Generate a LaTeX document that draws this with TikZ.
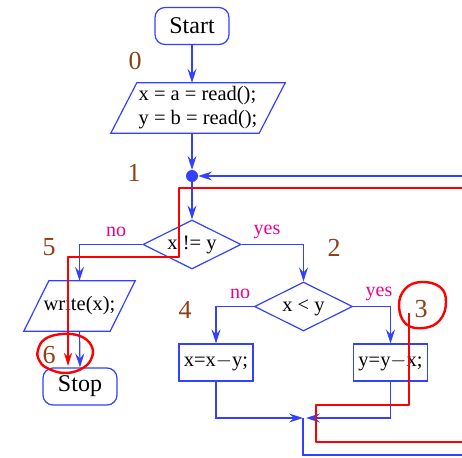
\documentclass[tikz,border=0pt]{standalone}
\usepackage{fontspec}
\setmainfont{Liberation Serif}
\usepackage{tikz}
\usetikzlibrary{positioning,arrows.meta,shapes.geometric}
\definecolor{flowblue}{rgb}{0.2,0.25,1}
\definecolor{stepbrown}{rgb}{0.55,0.25,0.08}

\begin{document}
\begin{tikzpicture}[
  x=1pt, y=-1pt,
  line/.style={draw=flowblue, line width=1.2pt},
  arr/.style={line, -{Stealth[length=14pt, width=9pt, inset=5pt]}},
  term/.style={line, rounded corners=10pt, minimum width=74pt,
               minimum height=37pt, font=\fontsize{24}{28}\selectfont},
  io/.style={minimum height=50pt, inner sep=0pt, align=left,
             font=\fontsize{20.5}{24}\selectfont},
  stmt/.style={line, minimum width=74pt, minimum height=37pt,
               font=\fontsize{20.5}{24}\selectfont},
  cond/.style={line, diamond, inner sep=0pt, minimum width=98pt,
               minimum height=49pt, text height=10pt, text depth=0pt,
               font=\fontsize{20.5}{24}\selectfont},
  stepno/.style={text=stepbrown, font=\fontsize{26}{30}\selectfont},
  lab/.style={text=magenta, font=\fontsize{20}{24}\selectfont},
  redpen/.style={draw=red, line width=2.4pt, line join=round}
]
  \clip (0,0) rectangle (462,457);

  \node[term] (start) at (192,26) {Start};
  \node[io, minimum width=148pt] (rd) at (198,108)
    {x = a = read();\\y = b = read();};
  \node[circle, fill=flowblue, inner sep=0pt, minimum size=12pt] (j1) at (192,176) {};
  \node[cond] (c1) at (192,244.5) {\makebox[0pt]{x != y}};
  \node[cond] (c2) at (303.5,306.5) {\makebox[0pt]{x < y}};
  \node[io, minimum width=86pt] (wr) at (79.5,306) {write(x);};
  \node[stmt] (b1) at (216,362.5) {x=x$-$y;};
  \node[stmt] (b2) at (390.5,362.5) {y=y$-$x;};
  \node[term] (stop) at (80,386.5) {Stop};
  \coordinate (m) at (303,418);

  % parallelograms drawn round the two io nodes
  \draw[line] ([xshift=13pt]rd.north west) -- ([xshift=13pt]rd.north east)
    -- ([xshift=-13pt]rd.south east) -- ([xshift=-13pt]rd.south west) -- cycle;
  \draw[line] ([xshift=12.5pt]wr.north west) -- ([xshift=12.5pt]wr.north east)
    -- ([xshift=-12.5pt]wr.south east) -- ([xshift=-12.5pt]wr.south west) -- cycle;

  % step numbers and branch labels
  \node[stepno] (n0) at (135,61) {0};
  \node[stepno] (n1) at (134,173) {1};
  \node[stepno] (n5) at (49,247) {5};
  \node[stepno] (n2) at (334,248) {2};
  \node[stepno] (n4) at (185,310) {4};
  \node[stepno] (n3) at (421,309) {3};
  \node[stepno] (n6) at (49,355) {6};
  \node[lab] at (116,232) {no};
  \node[lab] at (267,232) {yes};
  \node[lab] at (240,294) {no};
  \node[lab] at (379,294) {yes};

  \draw[arr] (start.south) -- (start.south |- rd.north);
  \draw[arr] (rd.south -| j1) -- (j1);
  \draw[arr] (j1) -- (c1.north);
  \draw[arr] (c1.west) -| (wr.north);
  \draw[arr] (c1.east) -| (c2.north);
  \draw[arr] (c2.west) -| (b1.north);
  \draw[arr] (c2.east) -| (b2.north);
  \draw[arr] (wr.south) -- (stop.north);
  \draw[arr] (b1.south) |- (m);
  \draw[arr] (b2.south) |- ([xshift=3pt]m);
  % back edge leaves the visible part on the right
  \draw[arr] (m) |- (475,455) |- (j1);

  % red pen annotation
  \draw[redpen, -{Stealth[length=13pt, width=8pt, inset=4pt]}]
    (409,313) -- (409,405) -- (316,405) -- (316,442) -- (475,442)
    -- (475,188) -- (179,188) -- (179,257) -- (68,257) -- (68,366);
  \draw[redpen] plot[smooth cycle, tension=0.7] coordinates
    {(399,306) (405,289) (421,282) (440,287) (446,302) (440,320) (424,328) (406,324)};
  \draw[redpen] plot[smooth cycle, tension=0.7] coordinates
    {(38,350) (45,339) (62,334) (80,336) (91,345) (92,357) (83,368) (65,373) (47,368) (39,360)};
\end{tikzpicture}
\end{document}
